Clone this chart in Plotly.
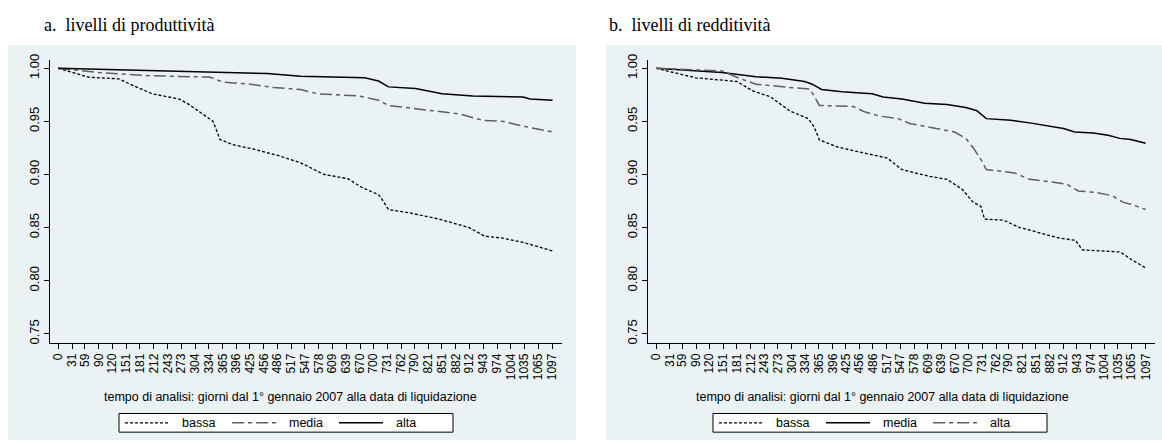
import plotly.graph_objects as go

W, H = 1162, 442

# x-axis ticks (days since 1 Jan 2007, month starts)
tick_days = [0, 31, 59, 90, 120, 151, 181, 212, 243, 273, 304, 334, 365, 396, 425,
             456, 486, 517, 547, 578, 609, 639, 670, 700, 731, 762, 790, 821, 851,
             882, 912, 943, 974, 1004, 1035, 1065, 1097]
y_ticks = [0.75, 0.80, 0.85, 0.90, 0.95, 1.00]
series_names = ['bassa', 'media', 'alta']

# panel a: livelli di produttività
a_bassa_days = [0, 30, 67, 135, 160, 209, 269, 290, 314, 344, 359, 388, 433, 487, 538,
                590, 643, 673, 711, 718, 733, 778, 845, 912, 946, 987, 1032, 1097]
a_bassa = [1.000, 0.996, 0.9917, 0.990, 0.985, 0.976, 0.971, 0.966, 0.959, 0.950, 0.933,
           0.928, 0.924, 0.918, 0.911, 0.900, 0.896, 0.888, 0.881, 0.877, 0.867, 0.864,
           0.858, 0.850, 0.842, 0.840, 0.836, 0.828]
a_media_days = [0, 90, 202, 336, 366, 426, 478, 538, 576, 666, 711, 733, 793, 852, 890,
                942, 987, 1032, 1097]
a_media = [1.000, 0.996, 0.993, 0.9917, 0.987, 0.985, 0.982, 0.980, 0.976, 0.974, 0.970,
           0.965, 0.962, 0.959, 0.957, 0.951, 0.950, 0.9455, 0.940]
a_alta_days = [0, 314, 464, 538, 680, 711, 733, 793, 852, 920, 1032, 1047, 1097]
a_alta = [1.000, 0.997, 0.995, 0.9925, 0.991, 0.988, 0.9825, 0.981, 0.976, 0.974, 0.973,
          0.971, 0.970]

# panel b: livelli di redditività
b_bassa_days = [0, 89, 181, 215, 257, 299, 341, 354, 366, 408, 450, 518, 551, 610, 652,
                686, 711, 728, 736, 778, 815, 905, 940, 955, 1040, 1065, 1097]
b_bassa = [1.000, 0.991, 0.9876, 0.979, 0.973, 0.960, 0.9526, 0.945, 0.9325, 0.9257,
           0.9217, 0.9155, 0.9046, 0.8985, 0.8954, 0.886, 0.8737, 0.870, 0.858, 0.857,
           0.850, 0.840, 0.838, 0.829, 0.827, 0.820, 0.812]
b_media_days = [0, 148, 224, 282, 333, 350, 371, 417, 484, 509, 551, 602, 652, 694, 719,
                740, 795, 837, 913, 938, 980, 1013, 1039, 1064, 1097]
b_media = [1.000, 0.996, 0.992, 0.9907, 0.9876, 0.985, 0.980, 0.978, 0.976, 0.973, 0.971,
           0.967, 0.966, 0.963, 0.960, 0.9526, 0.951, 0.9486, 0.9433, 0.940, 0.939, 0.937,
           0.934, 0.933, 0.9294]
b_alta_days = [0, 148, 190, 224, 299, 345, 354, 366, 442, 467, 501, 543, 568, 627, 669,
               694, 711, 728, 740, 803, 837, 887, 921, 946, 988, 1022, 1047, 1064, 1097]
b_alta = [1.000, 0.9975, 0.990, 0.985, 0.982, 0.9805, 0.974, 0.965, 0.964, 0.959, 0.955,
          0.9526, 0.948, 0.9433, 0.940, 0.934, 0.925, 0.914, 0.9046, 0.9015, 0.8954,
          0.893, 0.8907, 0.8845, 0.883, 0.880, 0.8737, 0.872, 0.867]

BG = '#EAF2F3'
GRAY = '#5f5f5f'
SANS = 'Liberation Sans, Arial'
DOT = dict(color='black', width=1.3, dash='3px,2px')
DASHDOT = dict(color=GRAY, width=1.5, dash='12px,4px,4px,4px')
SOLID = dict(color='black', width=1.5)

panels = [
    dict(x='x', y='y', data=[(a_bassa_days, a_bassa), (a_media_days, a_media), (a_alta_days, a_alta)],
         styles=[DOT, DASHDOT, SOLID], title_cx=290, legend_cx=286),
    dict(x='x2', y='y2', data=[(b_bassa_days, b_bassa), (b_media_days, b_media), (b_alta_days, b_alta)],
         styles=[DOT, SOLID, DASHDOT], title_cx=882, legend_cx=880),
]

fig = go.Figure()
for p in panels:
    for name, (days, vals), style in zip(series_names, p['data'], p['styles']):
        fig.add_trace(go.Scatter(x=days, y=vals, name=name, mode='lines', line=style,
                                 xaxis=p['x'], yaxis=p['y'], showlegend=False))

xaxis_common = dict(
    range=[-18, 1118], tickmode='array', tickvals=tick_days,
    ticktext=[str(d) for d in tick_days], tickangle=-90, ticks='outside', ticklen=5,
    tickcolor='black', showline=True, linecolor='black', linewidth=1,
    showgrid=False, zeroline=False, tickfont=dict(family=SANS, size=12, color='black'),
)
yaxis_common = dict(
    range=[0.7415, 1.0078], tickmode='array', tickvals=y_ticks,
    ticktext=[f'{v:.2f}' for v in y_ticks], tickangle=-90, ticks='outside', ticklen=5,
    tickcolor='black', showline=True, linecolor='black', linewidth=1,
    showgrid=True, gridcolor=BG, gridwidth=1, zeroline=False,
    tickfont=dict(family=SANS, size=13, color='black'),
)

y_dom = [1 - 343 / H, 1 - 55 / H]

fig.update_layout(
    width=W, height=H,
    margin=dict(l=0, r=0, t=0, b=0),
    paper_bgcolor='white', plot_bgcolor='white',
    xaxis=dict(xaxis_common, domain=[50 / W, 562 / W], anchor='y'),
    yaxis=dict(yaxis_common, domain=y_dom, anchor='x'),
    xaxis2=dict(xaxis_common, domain=[648 / W, 1155 / W], anchor='y2'),
    yaxis2=dict(yaxis_common, domain=y_dom, anchor='x2'),
    showlegend=False,
)

# grey graph regions behind each panel
for x0, x1 in [(8, 576), (606, 1162)]:
    fig.add_shape(type='rect', xref='paper', yref='paper', layer='below',
                  x0=x0 / W, x1=x1 / W, y0=0, y1=1 - 40 / H,
                  fillcolor=BG, line=dict(width=0))

# panel titles
for xpos, text in [(42, 'a.&nbsp;&nbsp;livelli di produttività'),
                   (607, 'b.&nbsp;&nbsp;livelli di redditività')]:
    fig.add_annotation(text=text, xref='paper', yref='paper', x=xpos / W, y=1 - 19 / H,
                       xanchor='left', yanchor='middle', showarrow=False,
                       font=dict(family='Liberation Serif, Times New Roman', size=18,
                                 color='black'))

# x-axis titles and boxed legends (Stata style, long key samples)
box_w, box_top, box_bot = 334, 415, 434
col_w, key_len = 107, 44
for p in panels:
    fig.add_annotation(text='tempo di analisi: giorni dal 1° gennaio 2007 alla data di liquidazione',
                       xref='paper', yref='paper', x=p['title_cx'] / W, y=1 - 398 / H,
                       xanchor='center', yanchor='middle', showarrow=False,
                       font=dict(family=SANS, size=12.5, color='black'))
    bx = p['legend_cx'] - box_w / 2
    fig.add_shape(type='rect', xref='paper', yref='paper',
                  x0=bx / W, x1=(bx + box_w) / W, y0=1 - box_bot / H, y1=1 - box_top / H,
                  fillcolor='white', line=dict(color='black', width=1))
    yc = 1 - (box_top + box_bot) / 2 / H
    for i, (name, style) in enumerate(zip(series_names, p['styles'])):
        kx = bx + 6 + i * col_w
        fig.add_shape(type='line', xref='paper', yref='paper',
                      x0=kx / W, x1=(kx + key_len) / W, y0=yc, y1=yc, line=style)
        fig.add_annotation(text=name, xref='paper', yref='paper', x=(kx + key_len + 11) / W,
                           y=yc, xanchor='left', yanchor='middle', showarrow=False,
                           font=dict(family=SANS, size=12.5, color='black'))

fig.write_html("out.html", config={'displayModeBar': False},
               post_script="document.body.style.margin='0px';")
